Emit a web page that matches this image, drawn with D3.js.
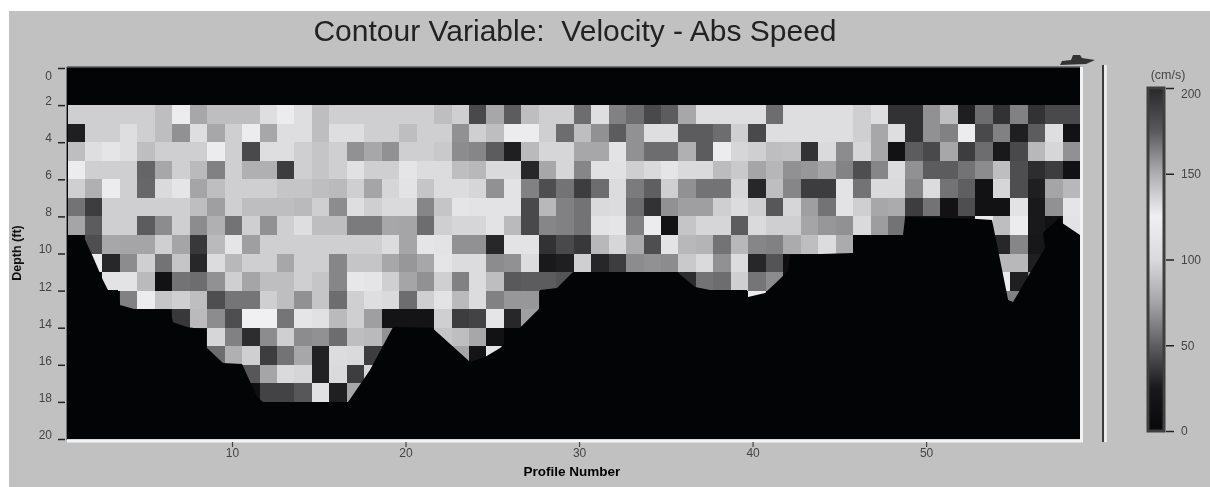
<!DOCTYPE html>
<html>
<head>
<meta charset="utf-8">
<script src="https://cdn.jsdelivr.net/npm/d3@7"></script>
<style>
  html, body { margin: 0; padding: 0; background: #fff; }
  svg { display: block; }
  text { font-family: "Liberation Sans", Arial, sans-serif; white-space: pre; }
</style>
</head>
<body>
<div id="chart"></div>
<script>
// chart values (cm/s, one array per 1 ft depth bin)
var profiles = d3.range(1, 59);
var depthBins = [2, 3, 4, 5, 6, 7, 8, 9, 10, 11, 12, 13, 14, 15, 16, 17];
var depth2 = [95,95,95,95,95,87,120,76,87,87,87,104,120,104,87,95,95,95,95,95,95,87,95,42,76,49,87,95,95,55,104,62,55,42,49,76,104,104,104,104,55,104,104,104,104,95,104,34,34,68,87,27,55,34,62,34,42,42];
var depth3 = [27,95,95,104,95,87,68,104,76,95,120,76,104,104,87,104,104,95,95,87,95,95,68,95,87,120,120,95,55,87,68,49,68,104,104,49,49,55,95,42,104,104,104,104,104,95,76,104,34,68,62,120,42,62,27,49,104,15];
var depth4 = [87,104,112,104,87,95,95,95,120,95,42,104,104,95,90,95,68,76,68,95,95,92,66,64,49,27,85,98,98,76,76,110,68,55,55,80,49,120,98,95,87,88,34,100,66,98,76,15,49,42,76,38,55,25,42,84,98,68];
var depth5 = [120,95,95,95,52,76,95,85,62,95,80,80,38,95,90,95,108,95,95,112,102,102,87,84,100,100,30,76,98,64,108,108,95,100,112,100,100,86,92,75,83,68,70,75,63,44,64,102,68,49,49,57,66,87,44,32,38,15];
var depth6 = [95,80,120,95,53,100,112,75,87,95,95,95,90,90,87,85,95,75,98,110,90,102,102,98,68,110,62,44,57,38,55,102,60,50,95,68,57,57,98,30,87,64,38,38,110,57,100,100,64,102,57,50,15,98,44,27,75,84];
var depth7 = [57,38,95,95,95,95,95,87,73,95,87,87,87,85,95,66,104,95,100,100,64,90,112,110,110,110,42,84,62,57,100,102,55,34,68,73,73,95,102,95,47,98,73,57,110,95,76,78,38,57,15,44,15,15,110,25,68,112];
var depth8 = [75,49,95,95,49,66,95,66,80,57,95,68,95,104,87,87,60,60,76,75,55,95,98,98,110,85,42,64,62,57,110,112,62,120,15,90,98,98,49,100,95,95,75,70,68,100,72,57,15,15,15,15,120,87,120,25,15,110];
var depth9 = [10,44,76,75,75,95,75,36,85,112,73,95,95,95,95,95,95,95,102,75,112,110,68,68,30,110,110,34,42,36,84,98,78,44,110,84,82,57,84,64,62,78,87,102,78,10,10,10,10,10,10,10,10,30,64,22,115,10];
var depth10 = [10,120,30,66,95,57,90,30,102,84,95,95,76,95,95,64,90,90,76,70,76,112,102,102,66,68,102,25,27,95,30,38,66,68,66,92,100,68,102,30,46,10,10,10,10,10,10,10,10,10,10,10,10,84,84,27,10,10];
var depth11 = [10,10,110,110,85,15,57,55,68,95,75,87,87,95,90,64,115,112,95,75,68,95,62,102,87,48,49,49,46,10,10,10,10,10,10,32,57,55,95,58,66,10,10,10,10,10,10,10,10,10,10,10,10,120,27,66,10,10];
var depth12 = [10,10,10,62,120,90,95,87,44,58,58,95,87,68,90,55,95,104,100,55,95,110,85,102,62,70,70,10,10,10,10,10,10,10,10,10,10,10,10,120,10,10,10,10,10,10,10,10,10,10,10,10,10,62,62,10,10,10];
var depth13 = [10,10,10,10,10,10,36,85,66,44,125,125,58,112,108,85,95,73,18,18,18,95,38,40,112,30,73];
var depth14 = [10,10,10,10,10,10,10,15,98,62,32,66,95,66,68,55,87,85,68,10,10,90,87,76,15];
var depth15 = [10,10,10,10,10,10,10,10,55,80,95,38,57,76,28,102,100,38,10,10,10,10,75,18,112];
var depth16 = [10,10,10,10,10,10,10,10,10,10,47,75,100,98,28,100,38,98];
var depth17 = [10,10,10,10,10,10,10,10,10,10,10,40,40,47,108,27,76];
var speedRows = [depth2, depth3, depth4, depth5, depth6, depth7, depth8, depth9, depth10, depth11, depth12, depth13, depth14, depth15, depth16, depth17];

// bottom outline of the section (profile number, depth in ft)
var bottomProfile = [0.49,1.41,1.99,2.56,2.85,3.43,3.54,4.41,6.43,6.6,7.46,8.5,8.5,9.48,10.58,11.44,11.79,16.57,17.95,19.28,21.53,23.72,24.58,25.45,26.6,27.75,27.75,28.73,29.65,35.65,36.69,37.55,39.68,39.74,40.72,42.05,42.16,45.79,45.79,48.67,48.79,52.75,53.8,54.73,55.01,55.99,56.86,56.74,57.72,57.84,58.87];
var bottomDepth = [9,9,10.19,11.43,11.97,11.97,12.78,13,13,13.7,13.98,14.1,15.04,15.9,15.96,17.74,18,18.17,16.28,13.96,14,15.85,15.58,15.09,14,12.93,11.97,11.86,11,11,11.8,11.97,11.97,12.35,12.13,10.94,10.08,9.97,9,9,8.03,8.12,8.19,12.51,12.61,11.05,9.7,8.89,8.03,8.36,9];

var depthTicks = [0, 2, 4, 6, 8, 10, 12, 14, 16, 18, 20];
var profileTicks = [10, 20, 30, 40, 50];
var legendTicks = [0, 50, 100, 150, 200];
var speedStops = [0, 25, 50, 75, 100, 125, 150, 175, 200];
var grayStops = [8, 25, 95, 165, 218, 240, 175, 90, 40];

var width = 1210;
var height = 487;
var plot = {left: 67, right: 1080, top: 67, bottom: 439};

var svg = d3.select("#chart").append("svg")
  .attr("width", width)
  .attr("height", height);

// the scan is soft, so everything gets a small blur
var root = svg.append("g").style("filter", "blur(0.65px)");

svg.insert("rect", "g")
  .attr("x", 9).attr("y", 11)
  .attr("width", width - 9).attr("height", height - 11)
  .attr("fill", "#c1c1c1");

// scales
var x = d3.scaleLinear().domain([0.49, 58.87]).range([plot.left, plot.right]);
var y = d3.scaleLinear().domain([0, 20]).range([68, plot.bottom]);
var xCell = d3.scaleBand().domain(profiles).range([67.5, plot.right]);
var color = d3.scaleLinear().domain(speedStops)
  .range(grayStops.map(function(g) { return d3.rgb(g, g, g + 2).formatHex(); }));

// black water / no data background
root.append("rect")
  .attr("x", plot.left).attr("y", plot.top)
  .attr("width", plot.right - plot.left).attr("height", plot.bottom - plot.top)
  .attr("fill", "#030406");

// cells
var cells = [];
speedRows.forEach(function(row, i) {
  row.forEach(function(v, j) {
    cells.push({profile: profiles[j], depth: depthBins[i], speed: v});
  });
});

root.append("g")
  .attr("shape-rendering", "crispEdges")
  .selectAll("rect")
  .data(cells)
  .enter()
  .append("rect")
  .attr("x", function(d) { return xCell(d.profile); })
  .attr("y", function(d) { return y(d.depth); })
  .attr("width", xCell.bandwidth() + 0.5)
  .attr("height", y(1) - y(0) + 0.5)
  .attr("fill", function(d) { return color(d.speed); });

// bottom
var bottomLine = d3.area()
  .x(function(d) { return x(d[0]); })
  .y0(plot.bottom)
  .y1(function(d) { return y(d[1]); });

root.append("path")
  .datum(d3.zip(bottomProfile, bottomDepth))
  .attr("d", bottomLine)
  .attr("fill", "#030406");

// top edge and the white lines at right / bottom of the plot
root.append("line")
  .attr("x1", plot.left).attr("x2", plot.right)
  .attr("y1", plot.top).attr("y2", plot.top)
  .attr("stroke", "#5a5a5a").attr("stroke-width", 1.5);
root.append("line")
  .attr("x1", plot.left).attr("x2", plot.right + 3)
  .attr("y1", plot.bottom + 2).attr("y2", plot.bottom + 2)
  .attr("stroke", "#f4f4f4").attr("stroke-width", 3);
root.append("line")
  .attr("x1", plot.right + 1.5).attr("x2", plot.right + 1.5)
  .attr("y1", plot.top).attr("y2", plot.bottom + 2)
  .attr("stroke", "#f4f4f4").attr("stroke-width", 3);
root.append("line")
  .attr("x1", plot.left - 0.5).attr("x2", plot.left - 0.5)
  .attr("y1", plot.top).attr("y2", plot.bottom + 1)
  .attr("stroke", "#777").attr("stroke-width", 1);

// axes
var yAxis = root.append("g")
  .attr("transform", "translate(" + (plot.left - 2) + ",0)")
  .call(d3.axisLeft(y).tickValues(depthTicks).tickSize(7).tickPadding(6));
yAxis.select(".domain").remove();
yAxis.selectAll("line").attr("stroke", "#222").attr("stroke-width", 1.5);
yAxis.selectAll("text")
  .attr("font-size", 12).attr("fill", "#444")
  .style("font-family", "'Liberation Sans', Arial, sans-serif")
  .attr("dy", function(d) { return d === 0 ? "0.95em" : "-0.05em"; });

var xAxis = root.append("g")
  .attr("transform", "translate(0," + (plot.bottom + 3) + ")")
  .call(d3.axisBottom(x).tickValues(profileTicks).tickSize(5).tickPadding(1));
xAxis.select(".domain").remove();
xAxis.selectAll("line").attr("stroke", "#444").attr("stroke-width", 1.2);
xAxis.selectAll("text")
  .attr("font-size", 12).attr("fill", "#444")
  .style("font-family", "'Liberation Sans', Arial, sans-serif");

// titles
root.append("text")
  .attr("x", 575).attr("y", 41)
  .attr("text-anchor", "middle")
  .attr("font-size", 30)
  .attr("fill", "#222")
  .text("Contour Variable:  Velocity - Abs Speed");

root.append("text")
  .attr("x", 572).attr("y", 476)
  .attr("text-anchor", "middle")
  .attr("font-size", 13.5)
  .attr("font-weight", "bold")
  .attr("fill", "#000")
  .text("Profile Number");

root.append("text")
  .attr("transform", "translate(21,253) rotate(-90)")
  .attr("text-anchor", "middle")
  .attr("font-size", 12.5)
  .attr("font-weight", "bold")
  .attr("fill", "#111")
  .text("Depth (ft)");

// little boat marker at the top right corner
root.append("path")
  .attr("d", "M1060,65 L1062,61 L1071,60 L1073,55 L1080,55 L1082,58 L1095,60 L1086,64 Z")
  .attr("fill", "#333");

// vertical bar right of the plot
root.append("line")
  .attr("x1", 1103).attr("x2", 1103)
  .attr("y1", 65).attr("y2", 442)
  .attr("stroke", "#3c3c3c").attr("stroke-width", 2);
root.append("line")
  .attr("x1", 1105.5).attr("x2", 1105.5)
  .attr("y1", 65).attr("y2", 442)
  .attr("stroke", "#f2f2f2").attr("stroke-width", 2.5);

// colour bar
var legendY = d3.scaleLinear().domain([0, 200]).range([431, 88]);

var grad = svg.append("defs").append("linearGradient")
  .attr("id", "speed-grad")
  .attr("x1", 0).attr("y1", 1).attr("x2", 0).attr("y2", 0);
grad.selectAll("stop")
  .data(speedStops)
  .enter()
  .append("stop")
  .attr("offset", function(d) { return d / 200; })
  .attr("stop-color", function(d) { return color(d); });

root.append("rect")
  .attr("x", 1148).attr("y", legendY(200))
  .attr("width", 16).attr("height", legendY(0) - legendY(200))
  .attr("fill", "url(#speed-grad)")
  .attr("stroke", "#3f3f3f")
  .attr("stroke-width", 3);

var legendAxis = root.append("g")
  .attr("transform", "translate(1166,0)")
  .call(d3.axisRight(legendY).tickValues(legendTicks).tickSize(8).tickPadding(7));
legendAxis.select(".domain").remove();
legendAxis.selectAll("line").attr("stroke", "#222").attr("stroke-width", 1.5);
legendAxis.selectAll("text")
  .attr("font-size", 12).attr("fill", "#444")
  .style("font-family", "'Liberation Sans', Arial, sans-serif")
  .attr("dy", function(d) { return d === 200 ? "0.75em" : "0.32em"; });

root.append("text")
  .attr("x", 1168).attr("y", 79)
  .attr("text-anchor", "middle")
  .attr("font-size", 12.5)
  .attr("fill", "#444")
  .text("(cm/s)");
</script>
</body>
</html>
